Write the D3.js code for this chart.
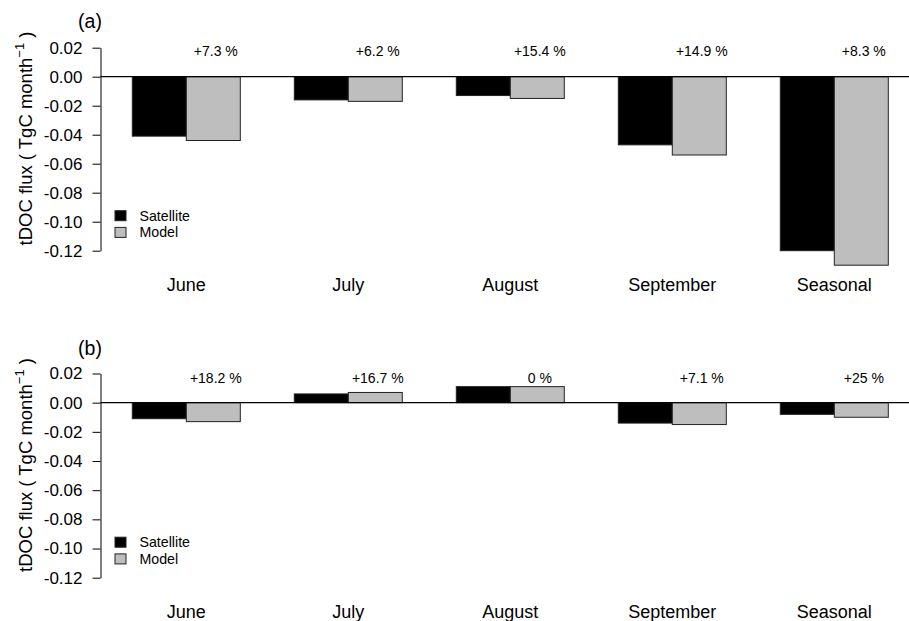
<!DOCTYPE html>
<html>
<head>
<meta charset="utf-8">
<script src="https://cdn.jsdelivr.net/npm/d3@7"></script>
<style>
  body { margin: 0; background: #fff; }
  svg { display: block; font-family: "Liberation Sans", Arial, Helvetica, sans-serif; }
</style>
</head>
<body>
<div id="chart"></div>
<script>
// categories and series
var categories = ["June", "July", "August", "September", "Seasonal"];
var series = ["Satellite", "Model"];

// panel (a) values, TgC month-1
var satelliteA = [-0.041, -0.016, -0.013, -0.047, -0.120];
var modelA = [-0.044, -0.017, -0.015, -0.054, -0.130];
var pctA = ["+7.3 %", "+6.2 %", "+15.4 %", "+14.9 %", "+8.3 %"];

// panel (b) values
var satelliteB = [-0.011, 0.006, 0.011, -0.014, -0.008];
var modelB = [-0.013, 0.007, 0.011, -0.015, -0.010];
var pctB = ["+18.2 %", "+16.7 %", "0 %", "+7.1 %", "+25 %"];

var yTicks = [0.02, 0.00, -0.02, -0.04, -0.06, -0.08, -0.10, -0.12];

var W = 909, H = 621;
var colors = { Satellite: "#000000", Model: "#bebebe" };

var svg = d3.select("#chart").append("svg")
    .attr("width", W)
    .attr("height", H);

var x = d3.scaleBand()
    .domain(categories)
    .range([132.3, 888.3])
    .paddingInner(1 / 3)
    .paddingOuter(0);

var xs = d3.scaleBand()
    .domain(series)
    .range([0, x.bandwidth()]);

function drawPanel(label, sat, mod, pct, top, bottom, dy) {
  var y = d3.scaleLinear().domain([-0.12, 0.02]).range([bottom, top]);
  var g = svg.append("g");

  // y axis
  var ax = g.append("g")
      .attr("transform", "translate(100.5,0)")
      .call(d3.axisLeft(y)
        .tickValues(yTicks)
        .tickSize(8)
        .tickSizeOuter(0)
        .tickPadding(10)
        .tickFormat(function(d) { return d.toFixed(2); }));
  ax.selectAll("text")
      .style("font-size", "17px")
      .style("font-family", "Liberation Sans, Arial, sans-serif")
      .attr("fill", "#000");
  ax.selectAll("line, path").attr("stroke", "#000");

  // y axis title
  var t = g.append("text")
      .attr("transform", "translate(31.5," + (138.5 + dy) + ") rotate(-90)")
      .attr("text-anchor", "middle")
      .style("font-size", "18.5px")
      .text("tDOC flux ( TgC month");
  t.append("tspan")
      .attr("dy", "-0.55em")
      .style("font-size", "13px")
      .text("\u22121");
  t.append("tspan")
      .attr("dy", "0.4em")
      .text(" )");

  // panel label
  g.append("text")
      .attr("x", 90)
      .attr("y", 28 + dy)
      .attr("text-anchor", "middle")
      .style("font-size", "19.5px")
      .text(label);

  // bars
  var rows = categories.map(function(c, i) {
    return { cat: c, vals: [{ s: "Satellite", v: sat[i] }, { s: "Model", v: mod[i] }] };
  });

  var grp = g.selectAll(".grp")
      .data(rows)
      .enter().append("g")
      .attr("class", "grp")
      .attr("transform", function(d) { return "translate(" + x(d.cat) + ",0)"; });

  grp.selectAll("rect")
      .data(function(d) { return d.vals; })
      .enter().append("rect")
      .attr("x", function(d) { return xs(d.s); })
      .attr("y", function(d) { return Math.min(y(d.v), y(0)); })
      .attr("width", xs.bandwidth())
      .attr("height", function(d) { return Math.abs(y(d.v) - y(0)); })
      .attr("fill", function(d) { return colors[d.s]; })
      .attr("stroke", "#222")
      .attr("stroke-width", 1);

  // zero line
  g.append("line")
      .attr("x1", 100.5)
      .attr("x2", W)
      .attr("y1", y(0))
      .attr("y2", y(0))
      .attr("stroke", "#000")
      .attr("stroke-width", 1.2);

  // percent labels
  g.selectAll(".pct")
      .data(pct)
      .enter().append("text")
      .attr("class", "pct")
      .attr("x", function(d, i) { return x(categories[i]) + xs("Model") + xs.bandwidth() / 2 + 2.5; })
      .attr("y", 56 + dy)
      .attr("text-anchor", "middle")
      .style("font-size", "14px")
      .text(function(d) { return d; });

  // category labels
  g.selectAll(".cat")
      .data(categories)
      .enter().append("text")
      .attr("class", "cat")
      .attr("x", function(d) { return x(d) + x.bandwidth() / 2; })
      .attr("y", 291 + dy)
      .attr("text-anchor", "middle")
      .style("font-size", "18px")
      .text(function(d) { return d; });

  // legend
  var leg = g.selectAll(".leg")
      .data(series)
      .enter().append("g")
      .attr("class", "leg")
      .attr("transform", function(d, i) { return "translate(115," + (210.7 + dy + i * 16.7) + ")"; });
  leg.append("rect")
      .attr("width", 11)
      .attr("height", 10)
      .attr("fill", function(d) { return colors[d]; })
      .attr("stroke", "#222");
  leg.append("text")
      .attr("x", 24.5)
      .attr("y", 10)
      .style("font-size", "14.2px")
      .text(function(d) { return d; });
}

drawPanel("(a)", satelliteA, modelA, pctA, 47.7, 250.7, 0);
drawPanel("(b)", satelliteB, modelB, pctB, 373.5, 577.7, 326.5);
</script>
</body>
</html>
